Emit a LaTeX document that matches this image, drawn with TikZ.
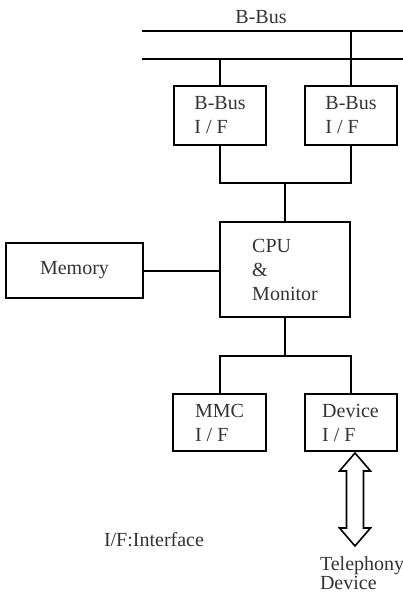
\documentclass[tikz,border=0pt]{standalone}
\usepackage{fontspec}
\setmainfont{Liberation Serif}
\begin{document}
\begin{tikzpicture}[x=1pt, y=-1pt, line width=2pt,
                    every node/.style={font=\fontsize{20}{24}\selectfont, text=black!80},
                    unit box/.style={draw, rectangle, align=left, inner sep=0pt},
                    phone arrow/.style={draw, line width=1.6pt, line join=miter}]
  \useasboundingbox (0,0) rectangle (403,594);

  % the two B-Bus lines
  \node[anchor=base, inner sep=0pt] (bbus) at (261,24) {B-Bus};
  \coordinate (bus1 left) at (142,31);
  \coordinate (bus1 right) at (403,31);
  \coordinate (bus2 left) at (142,59);
  \coordinate (bus2 right) at (403,59);
  \draw (bus1 left) -- (bus1 right);
  \draw (bus2 left) -- (bus2 right);

  % units
  \node[unit box, minimum width=92pt, minimum height=59pt] (bif1) at (220,115.5) {B-Bus\\I / F};
  \node[unit box, minimum width=92pt, minimum height=59pt] (bif2) at (351,115.5) {B-Bus\\I / F};
  \node[unit box, minimum width=130pt, minimum height=95pt] (cpu) at (285,269.5) {CPU\\\&\\Monitor};
  \node[unit box, minimum width=137pt, minimum height=55pt] (mem) at (74.5,270.5) {Memory};
  \node[unit box, minimum width=93pt, minimum height=57pt] (mmc) at (219.5,422.5) {MMC\\I / F};
  \node[unit box, minimum width=92pt, minimum height=57pt] (dev) at (350.5,422.5) {Device\\I / F};

  \coordinate (join top) at (285,183);
  \coordinate (join bottom) at (285,356);

  \draw (bif1.north) -- (bif1.north |- bus2 left);
  \draw (bif2.north) -- (bif2.north |- bus1 left);
  \draw (bif1.south) |- (join top) -| (bif2.south);
  \draw (join top) -- (cpu.north);
  \draw (mem.east) -- (cpu.west |- mem.east);
  \draw (cpu.south) -- (join bottom);
  \draw (mmc.north) |- (join bottom) -| (dev.north);

  % link to the telephony device
  \coordinate (link top) at (355,453);
  \draw[phone arrow] (link top) -- ++(15.5,18) -- ++(-7,0) -- ++(0,57) -- ++(7,0)
    -- ++(-15.5,18) -- ++(-15.5,-18) -- ++(7,0) -- ++(0,-57) -- ++(-7,0) -- cycle;
  \node[anchor=north west, align=left, inner sep=0pt,
        font=\fontsize{20}{17}\selectfont] (phone) at (319,556) {Telephony\\Device};

  \node[anchor=base west, inner sep=0pt] (legend) at (103,546) {I/F:Interface};
\end{tikzpicture}
\end{document}
